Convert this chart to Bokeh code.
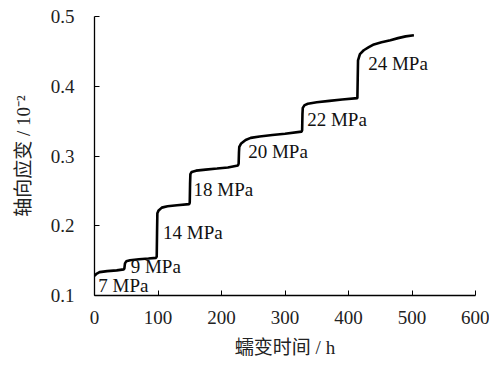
from bokeh.plotting import figure
from bokeh.models import FixedTicker, ColumnDataSource, Range1d
from bokeh.core.properties import value
from bokeh.embed import file_html
from bokeh.resources import INLINE

time_h = [0, 3, 8, 20, 35, 46, 47, 48, 50, 56, 70, 85, 97, 98, 98.5, 99, 101, 106, 115, 130, 149,
          150, 150.5, 151, 153, 160, 175, 193, 210, 226, 227, 227.5, 228, 231, 238, 246, 260, 280,
          300, 326, 327, 327.5, 328, 331, 336, 350, 370, 390, 414, 414.5, 415, 418, 424, 432, 440,
          452, 466, 478, 490, 503]
strain = [0.128, 0.131, 0.1335, 0.135, 0.136, 0.1375, 0.1385, 0.146, 0.149, 0.1505, 0.152, 0.153,
          0.154, 0.156, 0.19, 0.218, 0.222, 0.226, 0.228, 0.2295, 0.231,
          0.233, 0.26, 0.274, 0.277, 0.279, 0.2805, 0.282, 0.2835, 0.2865, 0.289, 0.305, 0.313,
          0.318, 0.323, 0.326, 0.328, 0.330,
          0.332, 0.335, 0.337, 0.36, 0.369, 0.373, 0.375, 0.377, 0.379, 0.381, 0.383, 0.41, 0.437,
          0.446, 0.4516, 0.456, 0.460,
          0.463, 0.466, 0.469, 0.4715, 0.473]

label_text = ["7 MPa", "9 MPa", "14 MPa", "18 MPa", "20 MPa", "22 MPa", "24 MPa"]
label_x = [6, 57, 108, 156, 242, 335, 431]
label_y = [0.114, 0.141, 0.191, 0.2525, 0.307, 0.353, 0.433]

x_ticks = [0, 100, 200, 300, 400, 500, 600]
y_ticks = [0.1, 0.2, 0.3, 0.4, 0.5]

FONT = "'Liberation Serif', 'Times New Roman', 'Noto Sans CJK SC'"

p = figure(width=489, height=360, output_backend="svg", toolbar_location=None,
           x_range=Range1d(0, 600), y_range=Range1d(0.1, 0.5),
           min_border_left=94, min_border_right=14, min_border_top=16, min_border_bottom=63)
p.outline_line_color = None
p.xgrid.visible = False
p.ygrid.visible = False
p.background_fill_color = "white"
p.border_fill_color = "white"

p.line(time_h, strain, line_color="black", line_width=2.6)

src = ColumnDataSource(dict(x=label_x, y=label_y, t=label_text))
p.text(x="x", y="y", text="t", source=src, text_font=value(FONT), text_font_size="19px",
       text_align="left", text_baseline="middle", text_color="#111111")

for ax in (p.xaxis[0], p.yaxis[0]):
    ax.axis_line_color = "black"
    ax.axis_line_width = 1.3
    ax.major_tick_in = 5
    ax.major_tick_out = 0
    ax.minor_tick_in = 0
    ax.minor_tick_out = 0
    ax.major_tick_line_color = "black"
    ax.major_label_text_font = FONT
    ax.major_label_text_font_size = "19px"
    ax.major_label_text_color = "#222222"
    ax.axis_label_text_font = FONT
    ax.axis_label_text_font_size = "19px"
    ax.axis_label_text_font_style = "normal"
    ax.axis_label_text_color = "#222222"

p.xaxis.ticker = FixedTicker(ticks=x_ticks)
p.yaxis.ticker = FixedTicker(ticks=y_ticks)
p.xaxis.axis_label = "蠕变时间 / h"
p.yaxis.axis_label = "轴向应变 / 10⁻²"
p.xaxis.major_label_standoff = 15
p.yaxis.major_label_standoff = 20
p.xaxis.axis_label_standoff = 10
p.yaxis.axis_label_standoff = 14

open("out.html", "w").write(file_html(p, INLINE))
